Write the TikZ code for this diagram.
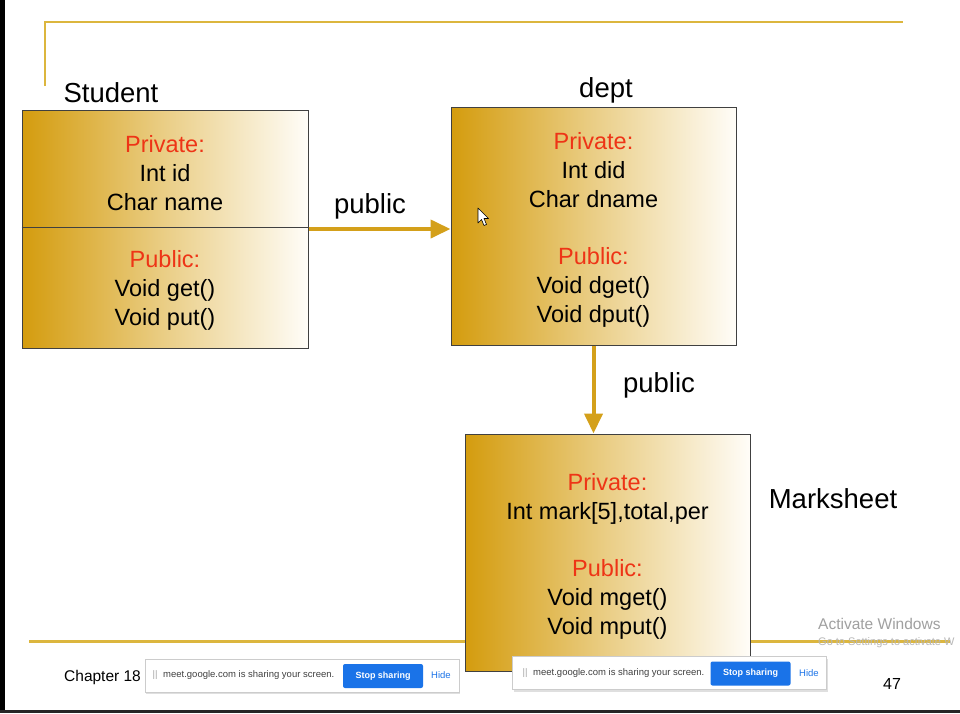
\documentclass[tikz,border=0pt]{standalone}
\usepackage{fontspec}
\setmainfont{Liberation Sans}
\usetikzlibrary{arrows.meta,shadows}

\definecolor{slidegold}{RGB}{220,182,62}
\definecolor{arrowgold}{RGB}{212,160,26}
\definecolor{boxdark}{RGB}{212,156,14}
\definecolor{boxmid}{RGB}{234,206,134}
\definecolor{boxlight}{RGB}{255,253,248}
\definecolor{privred}{RGB}{238,52,22}
\definecolor{meetblue}{RGB}{26,115,232}
\definecolor{wingray}{RGB}{160,160,160}

\tikzset{
  classbox/.style = {draw = black!75, line width = 1pt, left color = boxdark,
      right color = boxlight, middle color = boxmid, align = center,
      inner sep = 0pt, font = \fontsize{23.5}{29}\selectfont},
  classname/.style = {anchor = base, inner sep = 0pt, font = \fontsize{27.5}{30}\selectfont},
  inherit/.style = {arrowgold, line width = 4pt, -{Triangle[length=20pt,width=18pt]}},
  banner/.style = {draw = black!20, fill = white, minimum width = 314pt,
      minimum height = 33pt, drop shadow = {shadow xshift = 1pt, shadow yshift = -2pt, opacity = 0.25}},
  stopbtn/.style = {fill = meetblue, text = white, rounded corners = 2pt,
      minimum width = 80pt, minimum height = 24pt, font = \fontsize{9}{10}\selectfont\bfseries},
  meettext/.style = {inner sep = 0pt, font = \fontsize{9.5}{10}\selectfont}
}

%% first line of a class box, with a strut that pushes the block down a bit
\newcommand{\pv}[1]{\textcolor{privred}{#1}}
\newcommand{\pvtop}[1]{\rule{0pt}{25pt}\textcolor{privred}{#1}}

\begin{document}
\begin{tikzpicture}[x=1pt, y=-1pt]
    \useasboundingbox (0,0) rectangle (960,713);
    \fill[white] (0,0) rectangle (960,713);

    %% slide frame
    \draw[slidegold, line width = 2.5pt] (45,86) -- (45,22) -- (903,22);
    \draw[slidegold, line width = 3pt] (29,641) -- (950,641);
    \fill[black] (0,0) rectangle (5,713);
    \fill[black!85] (0,710) rectangle (960,713);

    %% classes
    \node[classbox, minimum width = 286pt, minimum height = 238pt] (student) at (165,229)
        {\pvtop{Private:}\\Int id\\Char name\\[28pt]\pv{Public:}\\Void get()\\Void put()};
    \draw[black!75, line width = 1pt] ([yshift=2pt]student.west) -- ([yshift=2pt]student.east);

    \node[classbox, minimum width = 285pt, minimum height = 238pt] (dept) at (593.5,226)
        {\pvtop{Private:}\\Int did\\Char dname\\[28pt]\pv{Public:}\\Void dget()\\Void dput()};

    \node[classbox, minimum width = 285pt, minimum height = 237pt] (marksheet) at (607.5,552.5)
        {\pvtop{Private:}\\Int mark[5],total,per\\[28pt]\pv{Public:}\\Void mget()\\Void mput()};

    \node[classname] (student label) at (111,102) {Student};
    \node[classname] (dept label) at (606,97) {dept};
    \node[classname] (marksheet label) at (833,508) {Marksheet};

    %% inheritance
    \draw[inherit] (student.east) -- (student.east -| dept.west);
    \node[classname] (public a) at (370,213) {public};

    \draw[inherit] (dept.south) -- (dept.south |- marksheet.north);
    \node[classname] (public b) at (659,392) {public};

    %% mouse pointer
    \draw[black, fill = white, line width = 0.6pt, line join = round]
        (478,208) -- (478,223) -- (481.5,219.5) -- (484,225.5) -- (486.5,224.5)
        -- (484,218.5) -- (488.5,218.5) -- cycle;

    %% footer
    \node[anchor = base west, inner sep = 0pt, font = \fontsize{15.5}{17}\selectfont] (chapter)
        at (64,681) {Chapter 18};
    \node[anchor = base, inner sep = 0pt, font = \fontsize{16}{17}\selectfont] (page) at (892,689) {47};

    \node[anchor = base west, inner sep = 0pt, text = wingray, font = \fontsize{15.5}{17}\selectfont]
        (activate) at (818,629) {Activate Windows};
    \node[anchor = base west, inner sep = 0pt, text = black!28, font = \fontsize{11}{12}\selectfont]
        (settings) at (818,645) {Go to Settings to activate W};

    %% screen sharing bars
    \foreach \cx/\cy/\bx/\tx/\hx/\nm in {302/675.5/383/163/441/a, 669.5/673/750.5/533/809/b} {
      \node[banner] (bar \nm) at (\cx,\cy) {};
      \node[meettext, text = black!35] (grip \nm) at (\tx-8,\cy) {\textbar\textbar};
      \node[meettext, anchor = west, text = black!75] (msg \nm) at (\tx,\cy) {meet.google.com is sharing your screen.};
      \node[stopbtn] (stop \nm) at (\bx,\cy+0.5) {Stop sharing};
      \node[meettext, text = meetblue] (hide \nm) at (\hx,\cy) {Hide};
    }

\end{tikzpicture}
\end{document}
